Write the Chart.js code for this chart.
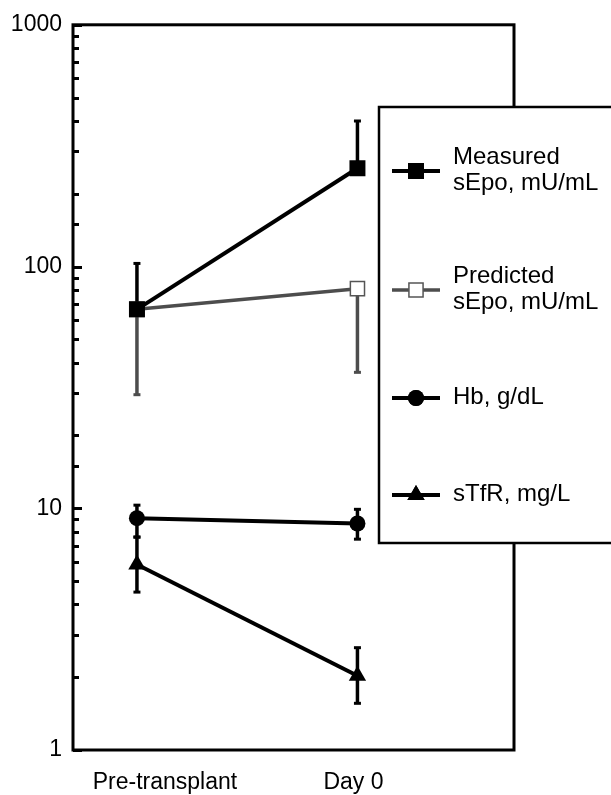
<!DOCTYPE html>
<html>
<head>
<meta charset="utf-8">
<script src="https://cdn.jsdelivr.net/npm/chart.js@4.4.1/dist/chart.umd.min.js"></script>
<style>
  html, body { margin: 0; padding: 0; background: #fff; }
  #wrap { width: 611px; height: 795px; position: relative; }
</style>
</head>
<body>
<div id="wrap"><canvas id="c" width="611" height="795"></canvas></div>
<script>
// Time points
const timePoints = ['Pre-transplant', 'Day 0'];

// Series names (legend lines)
const seriesNames = [
  ['Measured', 'sEpo, mU/mL'],
  ['Predicted', 'sEpo, mU/mL'],
  ['Hb, g/dL'],
  ['sTfR, mg/L']
];

// Means at each time point
const measuredEpo  = [66.5, 255];
const predictedEpo = [66.5, 81];
const hb           = [9.1, 8.65];
const stfr         = [5.85, 2.03];

// Error bar ends (null = not drawn)
const measuredEpoHi  = [103, 400];
const measuredEpoLo  = [null, null];
const predictedEpoHi = [null, null];
const predictedEpoLo = [29.5, 36.5];
const hbHi           = [10.3, 9.9];
const hbLo           = [7.6, 7.45];
const stfrHi         = [7.6, 2.65];
const stfrLo         = [4.5, 1.56];

// Y axis labelled decades
const yTickLabels = [1, 10, 100, 1000];

const FONT = "'Liberation Sans', Arial, Helvetica, sans-serif";
const GREY = '#4d4d4d';
// Horizontal nudge of each time-point caption, in x-axis units
const captionNudge = [0.127, -0.018];

function pts(arr) { return arr.map((v, i) => ({ x: i, y: v })); }

const datasets = [
  {
    label: seriesNames[0].join(' '),
    data: pts(measuredEpo), hi: measuredEpoHi, lo: measuredEpoLo,
    borderColor: '#000', borderWidth: 4,
    pointStyle: 'rect', pointRadius: 11.3, pointBackgroundColor: '#000',
    pointBorderColor: '#000', pointBorderWidth: 0, errColor: '#000'
  },
  {
    label: seriesNames[1].join(' '),
    data: pts(predictedEpo), hi: predictedEpoHi, lo: predictedEpoLo,
    borderColor: GREY, borderWidth: 3.5,
    pointStyle: 'rect', pointRadius: 10, pointBackgroundColor: '#fff',
    pointBorderColor: '#555', pointBorderWidth: 1.5, errColor: GREY
  },
  {
    label: seriesNames[2].join(' '),
    data: pts(hb), hi: hbHi, lo: hbLo,
    borderColor: '#000', borderWidth: 4,
    pointStyle: 'circle', pointRadius: 8, pointBackgroundColor: '#000',
    pointBorderColor: '#000', pointBorderWidth: 0, errColor: '#000'
  },
  {
    label: seriesNames[3].join(' '),
    data: pts(stfr), hi: stfrHi, lo: stfrLo,
    borderColor: '#000', borderWidth: 4,
    pointStyle: 'triangle', pointRadius: 10, pointBackgroundColor: '#000',
    pointBorderColor: '#000', pointBorderWidth: 0, errColor: '#000'
  }
];

// Vertical error bars with short caps, drawn beneath the markers
const errorBars = {
  id: 'errorBars',
  beforeDatasetsDraw(chart) {
    const { ctx, scales: { x, y } } = chart;
    ctx.save();
    chart.data.datasets.forEach(ds => {
      ds.data.forEach((p, i) => {
        const px = x.getPixelForValue(p.x);
        const py = y.getPixelForValue(p.y);
        [ds.hi[i], ds.lo[i]].forEach(end => {
          if (end == null) return;
          const ey = y.getPixelForValue(end);
          ctx.strokeStyle = ds.errColor;
          ctx.lineWidth = 3.5;
          ctx.beginPath();
          ctx.moveTo(px, py);
          ctx.lineTo(px, ey);
          ctx.stroke();
          ctx.lineWidth = 3;
          ctx.beginPath();
          ctx.moveTo(px - 3.5, ey);
          ctx.lineTo(px + 3.5, ey);
          ctx.stroke();
        });
      });
    });
    ctx.restore();
  }
};

// Plot frame and inward-facing log ticks on the y axis
const frame = {
  id: 'frame',
  afterDatasetsDraw(chart) {
    const { ctx, chartArea: a, scales: { y } } = chart;
    ctx.save();
    ctx.strokeStyle = '#000';
    ctx.lineWidth = 3;
    y.ticks.forEach(t => {
      const py = Math.round(y.getPixelForValue(t.value)) + 0.5;
      const len = t.major ? 9 : 6;
      ctx.beginPath();
      ctx.moveTo(a.left, py);
      ctx.lineTo(a.left + len, py);
      ctx.stroke();
    });
    ctx.strokeRect(a.left, a.top, a.right - a.left, a.bottom - a.top);
    ctx.restore();
  }
};

// Boxed legend on the right
const boxLegend = {
  id: 'boxLegend',
  afterDraw(chart, args, opts) {
    const { ctx } = chart;
    ctx.save();
    ctx.fillStyle = '#fff';
    ctx.fillRect(opts.left, opts.top, opts.width, opts.height);
    ctx.strokeStyle = '#000';
    ctx.lineWidth = 2.5;
    ctx.strokeRect(opts.left, opts.top, opts.width, opts.height);
    ctx.font = '24px ' + FONT;
    ctx.textBaseline = 'middle';
    ctx.textAlign = 'left';
    chart.data.datasets.forEach((ds, i) => {
      const yy = opts.rows[i];
      ctx.strokeStyle = ds.borderColor;
      ctx.lineWidth = ds.borderWidth;
      ctx.beginPath();
      ctx.moveTo(opts.left + 13, yy);
      ctx.lineTo(opts.left + 61, yy);
      ctx.stroke();
      ctx.fillStyle = ds.pointBackgroundColor;
      ctx.strokeStyle = ds.pointBorderColor;
      ctx.lineWidth = ds.pointBorderWidth;
      Chart.helpers.drawPoint(ctx, {
        pointStyle: ds.pointStyle, radius: ds.pointRadius,
        rotation: 0, borderWidth: ds.pointBorderWidth
      }, opts.left + 37, yy);
      if (ds.pointBorderWidth === 0) { ctx.fill(); }
      ctx.fillStyle = '#000';
      const lines = seriesNames[i];
      const lh = 26;
      lines.forEach((ln, k) => {
        ctx.fillText(ln, opts.left + 74, yy - 1 + (k - (lines.length - 1) / 2) * lh);
      });
    });
    ctx.restore();
  }
};

new Chart(document.getElementById('c'), {
  type: 'line',
  data: { datasets },
  options: {
    responsive: false,
    animation: false,
    layout: { padding: { left: 0, top: 21, right: 97, bottom: 0 } },
    plugins: {
      legend: { display: false },
      tooltip: { enabled: false },
      boxLegend: {
        left: 379, top: 107, width: 250, height: 436,
        rows: [171, 290, 398, 495]
      }
    },
    scales: {
      x: {
        type: 'linear',
        min: -0.29, max: 1.71,
        afterBuildTicks(scale) {
          scale.ticks = timePoints.map((_, i) => ({ value: i + captionNudge[i], idx: i }));
        },
        afterFit(scale) { scale.height = 45; },
        ticks: {
          callback: (v, i) => timePoints[i],
          font: { family: FONT, size: 23 },
          color: '#000',
          padding: 19,
          maxRotation: 0
        },
        grid: { display: false, drawTicks: false },
        border: { display: false }
      },
      y: {
        type: 'logarithmic',
        min: 1, max: 1000,
        afterFit(scale) { scale.width = 73; },
        ticks: {
          autoSkip: false,
          callback: v => (yTickLabels.includes(v) ? String(v) : ''),
          font: { family: FONT, size: 23 },
          color: '#000',
          padding: 11
        },
        grid: { display: false, drawTicks: false },
        border: { display: false }
      }
    }
  },
  plugins: [errorBars, frame, boxLegend]
});
</script>
</body>
</html>
